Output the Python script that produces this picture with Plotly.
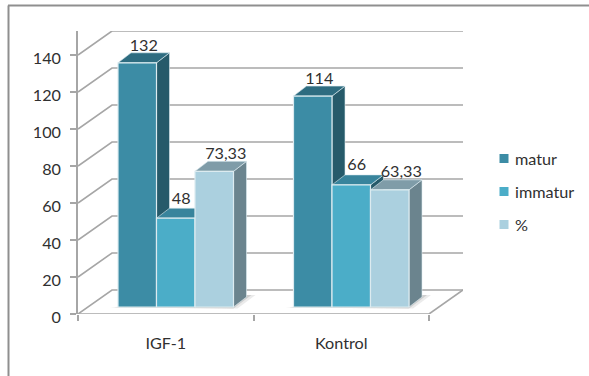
import plotly.graph_objects as go

# Chart content
categories = ["IGF-1", "Kontrol"]
series_names = ["matur", "immatur", "%"]
matur = [132, 114]
immatur = [48, 66]
persen = [73.33, 63.33]
value_labels = [["132", "114"], ["48", "66"], ["73,33", "63,33"]]
y_ticks = [0, 20, 40, 60, 80, 100, 120, 140]

front_colors = ["#3c8ca5", "#4badc8", "#abd0df"]
side_colors = ["#265a6a", "#265a6a", "#6b848e"]
top_colors = ["#2e6c80", "#38849c", "#7f9ca8"]
edge_color = "#dcebf0"
grid_color = "#a6a6a6"
text_color = "#303030"
FONT = dict(family="Lato", size=16.2, color=text_color)

# Page geometry (pixels) of the front plane of the oblique projection
W, H = 589, 376
LEFT, BOTTOM = 78, 314
CAT_PX = 175.5          # width of one category
UNIT_PX = 1.85          # height of one value unit
WALL_DX, WALL_DY = 34, 24
BAR_DX, BAR_DY = 13, 10
FLOOR_DX, FLOOR_DY = 10, 7
BAR_PX = 38.5
GROUP_PAD_PX = 30
LABEL_NUDGE_PX = [0, -1, 5]      # per-series horizontal offset of the value labels
LABEL_LIFT_PX = [0.5, 3, 1]      # per-series vertical offset of the value labels

PLOT_RIGHT = LEFT + 2 * CAT_PX + WALL_DX
PLOT_TOP = 31


def dx(px):
    return px / CAT_PX


def dy(px):
    return px / UNIT_PX


def polygon(xs, ys, fill, line_color=None, line_width=0.0):
    return go.Scatter(
        x=xs + xs[:1], y=ys + ys[:1], mode="lines", fill="toself",
        fillcolor=fill, line=dict(color=line_color or fill, width=line_width),
        hoverinfo="skip", showlegend=False,
    )


def segment(xs, ys, width=1.6):
    return go.Scatter(
        x=xs, y=ys, mode="lines", line=dict(color=grid_color, width=width),
        hoverinfo="skip", showlegend=False,
    )


fig = go.Figure()

# Side wall and back wall grid lines
for v in y_ticks:
    fig.add_trace(segment([0, dx(WALL_DX), 2 + dx(WALL_DX)],
                          [v, v + dy(WALL_DY), v + dy(WALL_DY)]))
# Floor edge on the right and the front axis
fig.add_trace(segment([2, 2 + dx(WALL_DX)], [0, dy(WALL_DY)]))
fig.add_trace(segment([0, 2], [0, 0]))

floor_y = dy(FLOOR_DY)
series = [matur, immatur, persen]

for c in range(len(categories)):
    left = c + dx(FLOOR_DX + GROUP_PAD_PX)
    right = left + 3 * dx(BAR_PX)
    # Soft contact shadow on the floor, wider and fainter on the outer layer
    for reach, alpha in [(9, 0.12), (5, 0.2)]:
        fig.add_trace(polygon(
            [left - dx(reach - 1), right + dx(reach - 5), right + dx(BAR_DX + reach),
             right + dx(BAR_DX)],
            [floor_y - dy(0.5), floor_y - dy(1.5), floor_y + dy(BAR_DY + 2),
             floor_y + dy(BAR_DY + 2)],
            f"rgba(90,90,90,{alpha})",
        ))
    # Painted left to right so that each bar hides what lies behind it
    for s, values in enumerate(series):
        x0 = left + s * dx(BAR_PX)
        x1 = x0 + dx(BAR_PX)
        v = values[c]
        ox, oy = dx(BAR_DX), dy(BAR_DY)
        fig.add_trace(polygon([x1, x1 + ox, x1 + ox, x1],
                              [floor_y, floor_y + oy, floor_y + v + oy, floor_y + v],
                              side_colors[s], edge_color, 0.6))
        fig.add_trace(polygon([x0, x1, x1 + ox, x0 + ox],
                              [floor_y + v, floor_y + v, floor_y + v + oy, floor_y + v + oy],
                              top_colors[s], edge_color, 0.6))
        fig.add_trace(polygon([x0, x1, x1, x0],
                              [floor_y, floor_y, floor_y + v, floor_y + v],
                              front_colors[s], edge_color, 1.2))

# Value labels sit just above each bar
for s, values in enumerate(series):
    xs, ys = [], []
    for c, v in enumerate(values):
        x0 = c + dx(FLOOR_DX + GROUP_PAD_PX) + s * dx(BAR_PX)
        xs.append(x0 + dx(BAR_PX / 2 + BAR_DX / 2 + LABEL_NUDGE_PX[s]))
        ys.append(floor_y + v + dy(BAR_DY - 2.5 + LABEL_LIFT_PX[s]))
    fig.add_trace(go.Scatter(
        x=xs, y=ys, mode="text", text=value_labels[s], textposition="top center",
        textfont=FONT, cliponaxis=False, hoverinfo="skip", showlegend=False,
    ))

plot_w, plot_h = PLOT_RIGHT - LEFT, BOTTOM - PLOT_TOP


def paper_x(px):
    return (px - LEFT) / plot_w


def paper_y(px):
    return (BOTTOM - px) / plot_h


# Outer frame: top and left edges only
shapes = [
    dict(type="line", xref="paper", yref="paper", x0=paper_x(8), x1=paper_x(589),
         y0=paper_y(5.5), y1=paper_y(5.5), line=dict(color="#8f8f8f", width=2)),
    dict(type="line", xref="paper", yref="paper", x0=paper_x(8.5), x1=paper_x(8.5),
         y0=paper_y(5.5), y1=paper_y(376), line=dict(color="#8f8f8f", width=2)),
]

# Legend key
annotations = []
for i, name in enumerate(series_names):
    cy = 158.5 + i * 33
    shapes.append(dict(type="rect", xref="paper", yref="paper",
                       x0=paper_x(499.5), x1=paper_x(508.5),
                       y0=paper_y(cy - 4.5), y1=paper_y(cy + 4.5),
                       fillcolor=front_colors[i], line=dict(width=0)))
    annotations.append(dict(xref="paper", yref="paper", x=paper_x(512.5), y=paper_y(cy),
                            text=name, showarrow=False, xanchor="left", yanchor="middle",
                            font=FONT))

fig.update_layout(
    width=W, height=H, autosize=False,
    margin=dict(l=LEFT, r=W - PLOT_RIGHT, t=PLOT_TOP, b=H - BOTTOM, pad=0),
    paper_bgcolor="white", plot_bgcolor="white",
    showlegend=False, shapes=shapes, annotations=annotations,
    xaxis=dict(
        range=[0, 2 + dx(WALL_DX)], tickmode="array", tickvals=[0.5, 1.5],
        ticktext=categories, ticks="", showgrid=False, zeroline=False, showline=False,
        tickfont=FONT, ticklabelstandoff=18, fixedrange=True,
        minor=dict(tickmode="array", tickvals=[0, 1, 2], ticks="outside", ticklen=6,
                   tickwidth=1.6, tickcolor=grid_color, showgrid=False),
    ),
    yaxis=dict(
        range=[0, plot_h / UNIT_PX], tickmode="array", tickvals=y_ticks,
        ticks="outside", ticklen=6, tickwidth=1.6, tickcolor=grid_color,
        showline=True, linecolor=grid_color, linewidth=1.6,
        showgrid=False, zeroline=False, fixedrange=True,
        tickfont=FONT, ticklabelstandoff=6, ticklabelshift=3,
    ),
)

fig.write_html("out.html", config=dict(displayModeBar=False))
